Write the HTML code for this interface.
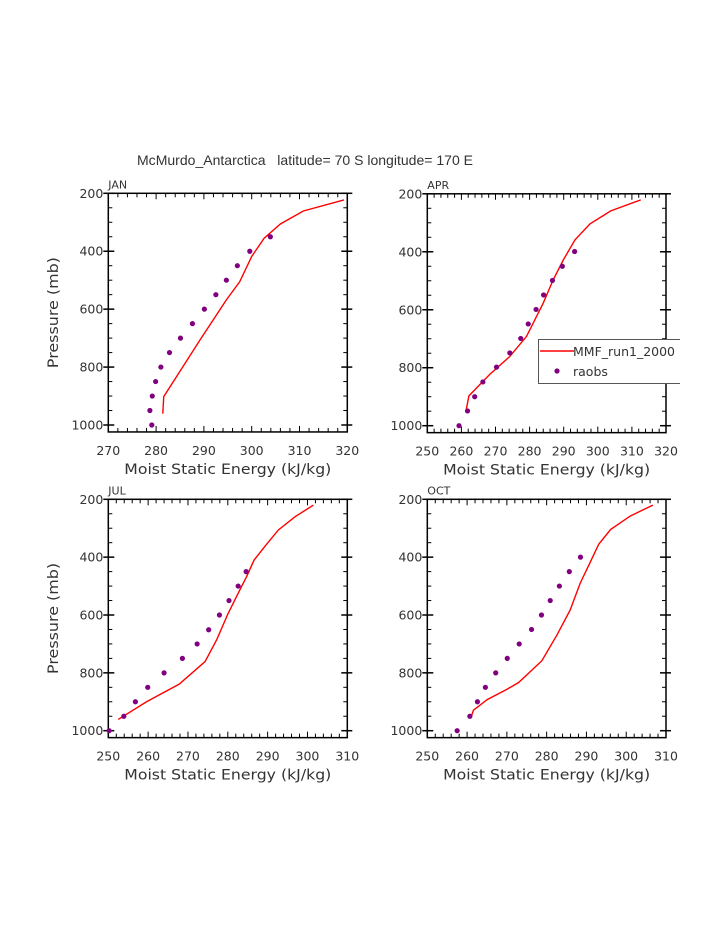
<!DOCTYPE html>
<html><head><meta charset="utf-8"><style>
body{margin:0;background:#fff}
svg{display:block;font-family:"DejaVu Sans","Liberation Sans",sans-serif}
</style></head><body>
<svg id="s" width="723" height="935" viewBox="0 0 723 935">
<text x="305" y="165" font-size="14" fill="#333" text-anchor="middle" textLength="336" lengthAdjust="spacingAndGlyphs" style="font-family:'Liberation Sans',sans-serif" xml:space="preserve">McMurdo_Antarctica   latitude= 70 S longitude= 170 E</text>
</svg>
<script>
const panelNames=["JAN","APR","JUL","OCT"];
const xMins=[270,250,250,250];
const xMaxs=[320,320,310,310];
const xStep=10;
const yTicks=[200,400,600,800,1000];
const janLineX=[281.4,281.6,289.2,294.7,297.5,300,302.6,306,310.8,319.3];
const janLineP=[961,902,706,568,505,418,355,306,261,223];
const janObsX=[279.1,278.7,279.2,279.9,281,282.8,285.1,287.6,290.1,292.5,294.7,297,299.6,303.9];
const janObsP=[1000,950,900,850,800,750,700,650,600,550,500,450,400,350];
const aprLineX=[261.3,261.4,262.2,268.4,274.2,279.1,284,286.9,289.9,293.3,297.7,303.8,312.6];
const aprLineP=[954,946,897,822,761,692,577,497,428,359,304,259,221];
const aprObsX=[259.3,261.8,263.9,266.3,270.3,274.2,277.4,279.6,281.9,284.1,286.7,289.6,293.2];
const aprObsP=[1000,949,900,849,798,749,699,649,599,549,499,450,399];
const julLineX=[252.5,259.6,267.8,274.3,277.2,280.1,283,284.7,286.6,289.7,292.7,296.9,301.5];
const julLineP=[961,900,839,761,686,594,514,468,410,356,306,260,220];
const julObsX=[250.2,253.9,256.8,259.9,264,268.6,272.3,275.2,277.9,280.3,282.6,284.6];
const julObsP=[1000,950,900,850,800,750,700,651,600,550,500,450];
const octLineX=[261,261.6,265.1,270,273,278.8,282.6,285.9,288.4,291,293.1,296.1,301,306.7];
const octLineP=[954,929,892,857,833,758,669,583,491,416,355,304,258,220];
const octObsX=[257.5,260.7,262.6,264.6,267.2,270.1,273.1,276.2,278.7,280.9,283.2,285.7,288.5];
const octObsP=[1000,950,900,850,800,750,700,650,600,550,500,450,400];

const lines=[[janLineX,janLineP],[aprLineX,aprLineP],[julLineX,julLineP],[octLineX,octLineP]];
const obs=[[janObsX,janObsP],[aprObsX,aprObsP],[julObsX,julObsP],[octObsX,octObsP]];
const boxes=[[108.3,347.3,193.3,425],[427.3,666,193.8,425.7],[108.3,347.3,499.3,730.7],[427.3,666,499.3,730.7]];
const NS="http://www.w3.org/2000/svg";
const svg=document.getElementById("s");
function mk(t,a,p){const e=document.createElementNS(NS,t);for(const k in a)e.setAttribute(k,a[k]);(p||svg).appendChild(e);return e;}
panelNames.forEach((nm,i)=>{
  const [L,R,T200,B1000]=boxes[i];
  const x0=xMins[i],x1=xMaxs[i];
  const sx=v=>L+(v-x0)/(x1-x0)*(R-L);
  const sy=p=>T200+(p-200)/800*(B1000-T200);
  const bottom=sy(1024);
  const g=mk("g",{});
  
  
  const fr=mk("rect",{x:L,y:T200,width:R-L,height:bottom-T200,fill:"none",stroke:"#000","stroke-width":1.5},g);
  
  
  const lab=mk("text",{x:L,y:T200-5,"font-size":11,fill:"#333"},g);lab.textContent=nm;
  
  
  for(let v=x0;v<=x1+1e-6;v+=2){
    const X=sx(v);const maj=Math.abs((v-x0)%xStep)<1e-6;const len=maj?6:4;
    mk("line",{x1:X,x2:X,y1:bottom,y2:bottom-len,stroke:"#000","stroke-width":1},g);
    mk("line",{x1:X,x2:X,y1:T200,y2:T200+len,stroke:"#000","stroke-width":1},g);
    if(maj){const t=mk("text",{x:X,y:bottom+23,"font-size":12.5,fill:"#333","text-anchor":"middle"},g);t.textContent=v;
      
      }
  }
  for(let p=200;p<=1000;p+=50){
    const Y=sy(p);const maj=yTicks.includes(p);
    if(maj){mk("line",{x1:L-5,x2:L+6,y1:Y,y2:Y,stroke:"#000","stroke-width":1.5},g);mk("line",{x1:R-6,x2:R+5,y1:Y,y2:Y,stroke:"#000","stroke-width":1.5},g);
      const t=mk("text",{x:L-5,y:Y+4.5,"font-size":12.5,fill:"#333","text-anchor":"end"},g);t.textContent=p;
      
      }
    else{mk("line",{x1:L,x2:L+4,y1:Y,y2:Y,stroke:"#000","stroke-width":1},g);mk("line",{x1:R-4,x2:R,y1:Y,y2:Y,stroke:"#000","stroke-width":1},g);}
  }
  const xt=mk("text",{x:(L+R)/2,y:bottom+42,"font-size":14.5,fill:"#333","text-anchor":"middle",textLength:207,lengthAdjust:"spacingAndGlyphs"},g);xt.textContent="Moist Static Energy (kJ/kg)";
  
  
  if(i%2===0){const yt=mk("text",{x:0,y:0,"font-size":14.5,fill:"#333","text-anchor":"middle",textLength:111,lengthAdjust:"spacingAndGlyphs",transform:`translate(58,${(T200+bottom)/2}) rotate(-90)`},g);yt.textContent="Pressure (mb)";
    
    }
  const [lx,lp]=lines[i];
  const pl=mk("polyline",{points:lx.map((v,k)=>sx(v)+","+sy(lp[k])).join(" "),fill:"none",stroke:"#f00","stroke-width":1.4},g);
  
  
  const [ox,op]=obs[i];
  ox.forEach((v,k)=>{const c=mk("circle",{cx:sx(v),cy:sy(op[k]),r:2.6,fill:"#800080"},g);
    
    });
});
const lg=mk("g",{});


mk("rect",{x:538.5,y:339.5,width:142,height:44,fill:"#fff",stroke:"none"},lg);
mk("polyline",{points:"680,339.5 538.5,339.5 538.5,383.5 680,383.5",fill:"none",stroke:"#555","stroke-width":1},lg);
mk("line",{x1:540,x2:574,y1:351,y2:351,stroke:"#f00","stroke-width":1.4},lg);
const t1=mk("text",{x:573,y:356,"font-size":12.5,fill:"#333"},lg);t1.textContent="MMF_run1_2000";


mk("circle",{cx:557,cy:371,r:2.6,fill:"#800080"},lg);
const t2=mk("text",{x:573,y:376,"font-size":12.5,fill:"#333"},lg);t2.textContent="raobs";


mk("rect",{x:680.5,y:330,width:50,height:60,fill:"#fff"},lg);
</script>
</body></html>
